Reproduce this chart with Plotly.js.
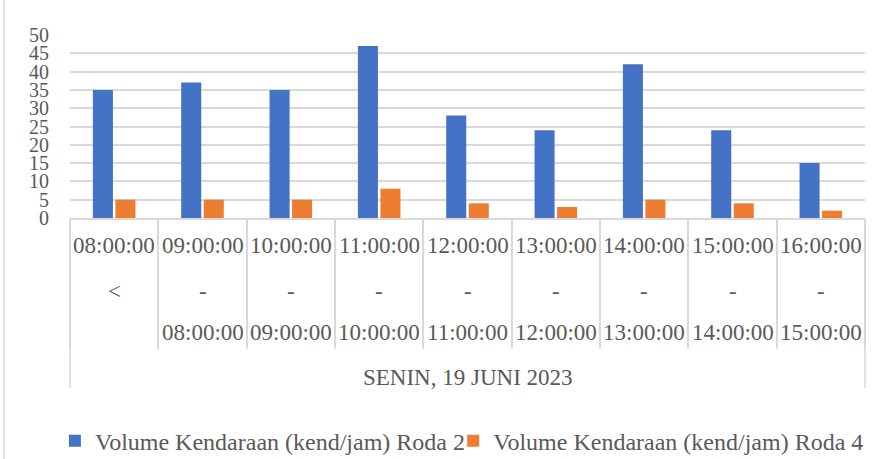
<!DOCTYPE html>
<html>
<head>
<meta charset="utf-8">
<script src="https://cdn.plot.ly/plotly-3.0.1.min.js"></script>
<style>
  html, body { margin: 0; padding: 0; background: #ffffff; }
  #chart { width: 886px; height: 459px; }
</style>
</head>
<body>
<div id="chart"></div>
<script>
// Time slots (three label rows per category, like the Excel table axis)
const startTimes = ['08:00:00', '09:00:00', '10:00:00', '11:00:00', '12:00:00', '13:00:00', '14:00:00', '15:00:00', '16:00:00'];
const separators = ['<', '-', '-', '-', '-', '-', '-', '-', '-'];
const endTimes = ['', '08:00:00', '09:00:00', '10:00:00', '11:00:00', '12:00:00', '13:00:00', '14:00:00', '15:00:00'];
const groupLabel = 'SENIN, 19 JUNI 2023';

// Vehicle volumes (kend/jam)
const roda2 = [35, 37, 35, 47, 28, 24, 42, 24, 15];
const roda4 = [5, 5, 5, 8, 4, 3, 5, 4, 2];

const seriesNames = ['Volume Kendaraan (kend/jam) Roda 2', 'Volume Kendaraan (kend/jam) Roda 4'];

const categories = startTimes.map((s, i) => `${s} ${separators[i]} ${endTimes[i]}`.trim());

const FONT = '"Liberation Serif", "Times New Roman", serif';
const TEXT_COLOR = '#595959';
const LINE_COLOR = '#d9d9d9';

const traces = [
    {
        x: categories,
        y: roda2,
        name: seriesNames[0],
        type: 'bar',
        marker: { color: '#4472c4' },
        legend: 'legend',
        hoverinfo: 'y'
    },
    {
        x: categories,
        y: roda4,
        name: seriesNames[1],
        type: 'bar',
        marker: { color: '#ed7d31' },
        legend: 'legend2',
        hoverinfo: 'y'
    }
];

// row positions below the plot area (paper units, plot height = 183px)
const rowY = [-0.153, -0.404, -0.628];
const rows = [startTimes, separators, endTimes];

const annotations = [];
rows.forEach((row, r) => {
    row.forEach((label, i) => {
        if (!label) return;
        annotations.push({
            x: categories[i],
            xref: 'x',
            y: rowY[r],
            yref: 'paper',
            text: label,
            showarrow: false,
            xanchor: 'center',
            yanchor: 'middle',
            font: { family: FONT, size: 23, color: TEXT_COLOR }
        });
    });
});

annotations.push({
    x: 0.5,
    xref: 'paper',
    y: -0.869,
    yref: 'paper',
    text: groupLabel,
    showarrow: false,
    xanchor: 'center',
    yanchor: 'middle',
    font: { family: FONT, size: 23, color: TEXT_COLOR }
});

const shapes = [
    // outer table borders reaching the group label row
    { type: 'line', xref: 'paper', yref: 'paper', x0: 0, x1: 0, y0: 0, y1: -0.929, line: { color: LINE_COLOR, width: 1.5 } },
    { type: 'line', xref: 'paper', yref: 'paper', x0: 1, x1: 1, y0: 0, y1: -0.929, line: { color: LINE_COLOR, width: 1.5 } },
    // chart area border on the left
    { type: 'line', xref: 'paper', yref: 'paper', x0: -0.083, x1: -0.083, y0: 1.2, y1: -1.32, line: { color: LINE_COLOR, width: 1.5 } }
];

const legendStyle = {
    orientation: 'h',
    xanchor: 'left',
    y: -1.219,
    yanchor: 'middle',
    font: { family: FONT, size: 24, color: TEXT_COLOR },
    itemwidth: 30,
    bgcolor: 'rgba(0,0,0,0)'
};

const layout = {
    width: 886,
    height: 459,
    margin: { l: 70, r: 21, t: 35, b: 241, autoexpand: false },
    paper_bgcolor: '#ffffff',
    plot_bgcolor: '#ffffff',
    font: { family: FONT, color: TEXT_COLOR },
    bargap: 0.49,
    bargroupgap: 0.11,
    xaxis: {
        type: 'category',
        showticklabels: false,
        tickson: 'boundaries',
        ticks: 'outside',
        ticklen: 129,
        tickwidth: 1.5,
        tickcolor: LINE_COLOR,
        showline: true,
        linecolor: LINE_COLOR,
        linewidth: 1.5,
        showgrid: false,
        fixedrange: true
    },
    yaxis: {
        range: [0, 50],
        dtick: 5,
        showgrid: true,
        gridcolor: LINE_COLOR,
        gridwidth: 2,
        zeroline: false,
        showline: false,
        ticklabelstandoff: 20,
        tickfont: { family: FONT, size: 20, color: TEXT_COLOR },
        fixedrange: true
    },
    showlegend: true,
    legend: Object.assign({ x: -0.019 }, legendStyle),
    legend2: Object.assign({ x: 0.482 }, legendStyle),
    annotations: annotations,
    shapes: shapes
};

const config = {
    responsive: false,
    displayModeBar: false
};

Plotly.newPlot(document.getElementById('chart'), traces, layout, config);
</script>
</body>
</html>
